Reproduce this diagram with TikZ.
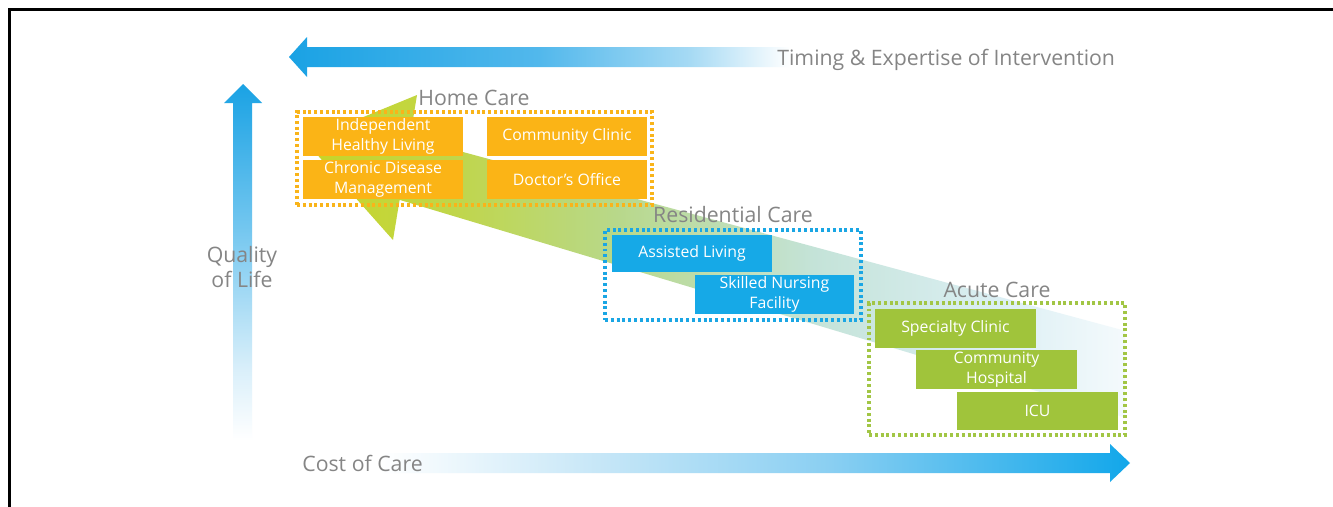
\documentclass[tikz,border=0pt]{standalone}
\usepackage{fontspec}
\setmainfont{Open Sans}
\definecolor{bandA}{HTML}{C8D526}
\definecolor{bandB}{HTML}{C0D64A}
\definecolor{bandC}{HTML}{B8D88A}
\definecolor{bandD}{HTML}{C4E3D8}
\definecolor{bandE}{HTML}{DCEFF4}
\definecolor{bandF}{HTML}{F4FAFC}
\definecolor{blueA}{HTML}{1AA2E4}
\definecolor{blueB}{HTML}{52B8EC}
\definecolor{blueC}{HTML}{A6DAF4}
\definecolor{blueD}{HTML}{C5E6F7}
\definecolor{blueE}{HTML}{8ACFF2}
\definecolor{blueF}{HTML}{12A7EA}
\definecolor{qolB}{HTML}{D9EFFA}
\definecolor{qolC}{HTML}{72C6EF}
\definecolor{orangeF}{HTML}{FBB416}
\definecolor{orangeD}{HTML}{F9B41A}
\definecolor{cyanF}{HTML}{16A9E7}
\definecolor{cyanD}{HTML}{1AA6E4}
\definecolor{greenF}{HTML}{A0C43B}
\definecolor{greenD}{HTML}{A2C645}
\definecolor{labelgray}{HTML}{858585}
\pgfdeclarehorizontalshading{bandshade}{100bp}{color(0bp)=(bandA); color(25bp)=(bandA); color(34bp)=(bandB); color(44bp)=(bandC); color(56bp)=(bandD); color(67.5bp)=(bandE); color(75bp)=(bandF); color(100bp)=(bandF)}
\pgfdeclarehorizontalshading{topshade}{100bp}{color(0bp)=(blueA); color(25bp)=(blueA); color(50bp)=(blueB); color(65bp)=(blueC); color(75bp)=(white); color(100bp)=(white)}
\pgfdeclarehorizontalshading{botshade}{100bp}{color(0bp)=(white); color(25bp)=(white); color(40bp)=(blueD); color(55bp)=(blueE); color(75bp)=(blueF); color(100bp)=(blueF)}
\pgfdeclareverticalshading{qolshade}{100bp}{color(0bp)=(white); color(25bp)=(white); color(35bp)=(qolB); color(55bp)=(qolC); color(75bp)=(blueA); color(100bp)=(blueA)}
\tikzset{
  boxtext/.style={text=white, inner sep=0pt, align=center, font=\fontsize{9}{11.3}\selectfont},
  homebox/.style={boxtext, fill=orangeF, minimum width=3.2cm, minimum height=0.78cm},
  resbox/.style={boxtext, fill=cyanF, minimum width=3.2cm, minimum height=0.76cm},
  acutebox/.style={boxtext, fill=greenF, minimum width=3.22cm, minimum height=0.77cm},
  grp/.style={draw, line width=1.8pt, dash pattern=on 1.7pt off 1.6pt, inner sep=0pt, fill=none},
  biglabel/.style={text=labelgray, inner sep=0pt, font=\fontsize{12.1}{14.7}\selectfont}
}
\begin{document}
\begin{tikzpicture}[x=0.02cm, y=-0.02cm]
\useasboundingbox (0,0) rectangle (1333,507);
\fill[white] (0,0) rectangle (1333,507);
% frame
\draw[black, line width=1.3pt] (9.5,507) -- (9.5,9.5) -- (1333,9.5);
% big diagonal band arrow
\shade[shading=bandshade] (305,141) -- (417,95) -- (410,137.7) -- (1125,330.8) -- (1125,417.5) -- (399.6,199.9) -- (393,240) -- cycle;
% top arrow
\shade[shading=topshade] (289,57) -- (307,37) -- (307,47) -- (790,47) -- (790,67) -- (307,67) -- (307,77) -- cycle;
% vertical arrow
\shade[shading=qolshade] (243,84) -- (262,103) -- (252,103) -- (252,440) -- (233,440) -- (233,103) -- (224,103) -- cycle;
% bottom arrow
\shade[shading=botshade] (380,453) -- (1110,453) -- (1110,444) -- (1130,463) -- (1110,482) -- (1110,473) -- (380,473) -- cycle;
% axis labels
\node[biglabel, anchor=base west] (timing) at (777,65) {Timing \& Expertise of Intervention};
\node[biglabel, align=center] (qol) at (242,267) {Quality\\of Life};
\node[biglabel, anchor=base west] (cost) at (302,471) {Cost of Care};
% groups
\node[grp, draw=orangeD, minimum width=7.1cm, minimum height=1.86cm] (homegrp) at (474.5,158.5) {};
\node[grp, draw=cyanD, minimum width=5.12cm, minimum height=1.8cm] (resgrp) at (733,275) {};
\node[grp, draw=greenD, minimum width=5.12cm, minimum height=2.64cm] (acutegrp) at (997,369) {};
\node[biglabel, anchor=base] (homelbl) at (474,105) {Home Care};
\node[biglabel, anchor=base] (reslbl) at (733,222) {Residential Care};
\node[biglabel, anchor=base] (acutelbl) at (997,297) {Acute Care};
% home care boxes
\node[homebox] (indep) at (383,136.5) {Independent\\Healthy Living};
\node[homebox] (chronic) at (383,179.5) {Chronic Disease\\Management};
\node[homebox] (commclinic) at (567,136.5) {Community Clinic};
\node[homebox] (doctor) at (567,179.5) {Doctor’s Office};
% residential boxes
\node[resbox] (assisted) at (692,253.5) {Assisted Living};
\node[resbox, minimum height=0.78cm] (skilled) at (774.5,294.5) {Skilled Nursing\\Facility};
% acute boxes
\node[acutebox] (specialty) at (955.5,328.5) {Specialty Clinic};
\node[acutebox, minimum height=0.78cm] (commhosp) at (996.5,369.5) {Community\\Hospital};
\node[acutebox] (icu) at (1037.5,411) {ICU};
\end{tikzpicture}
\end{document}
